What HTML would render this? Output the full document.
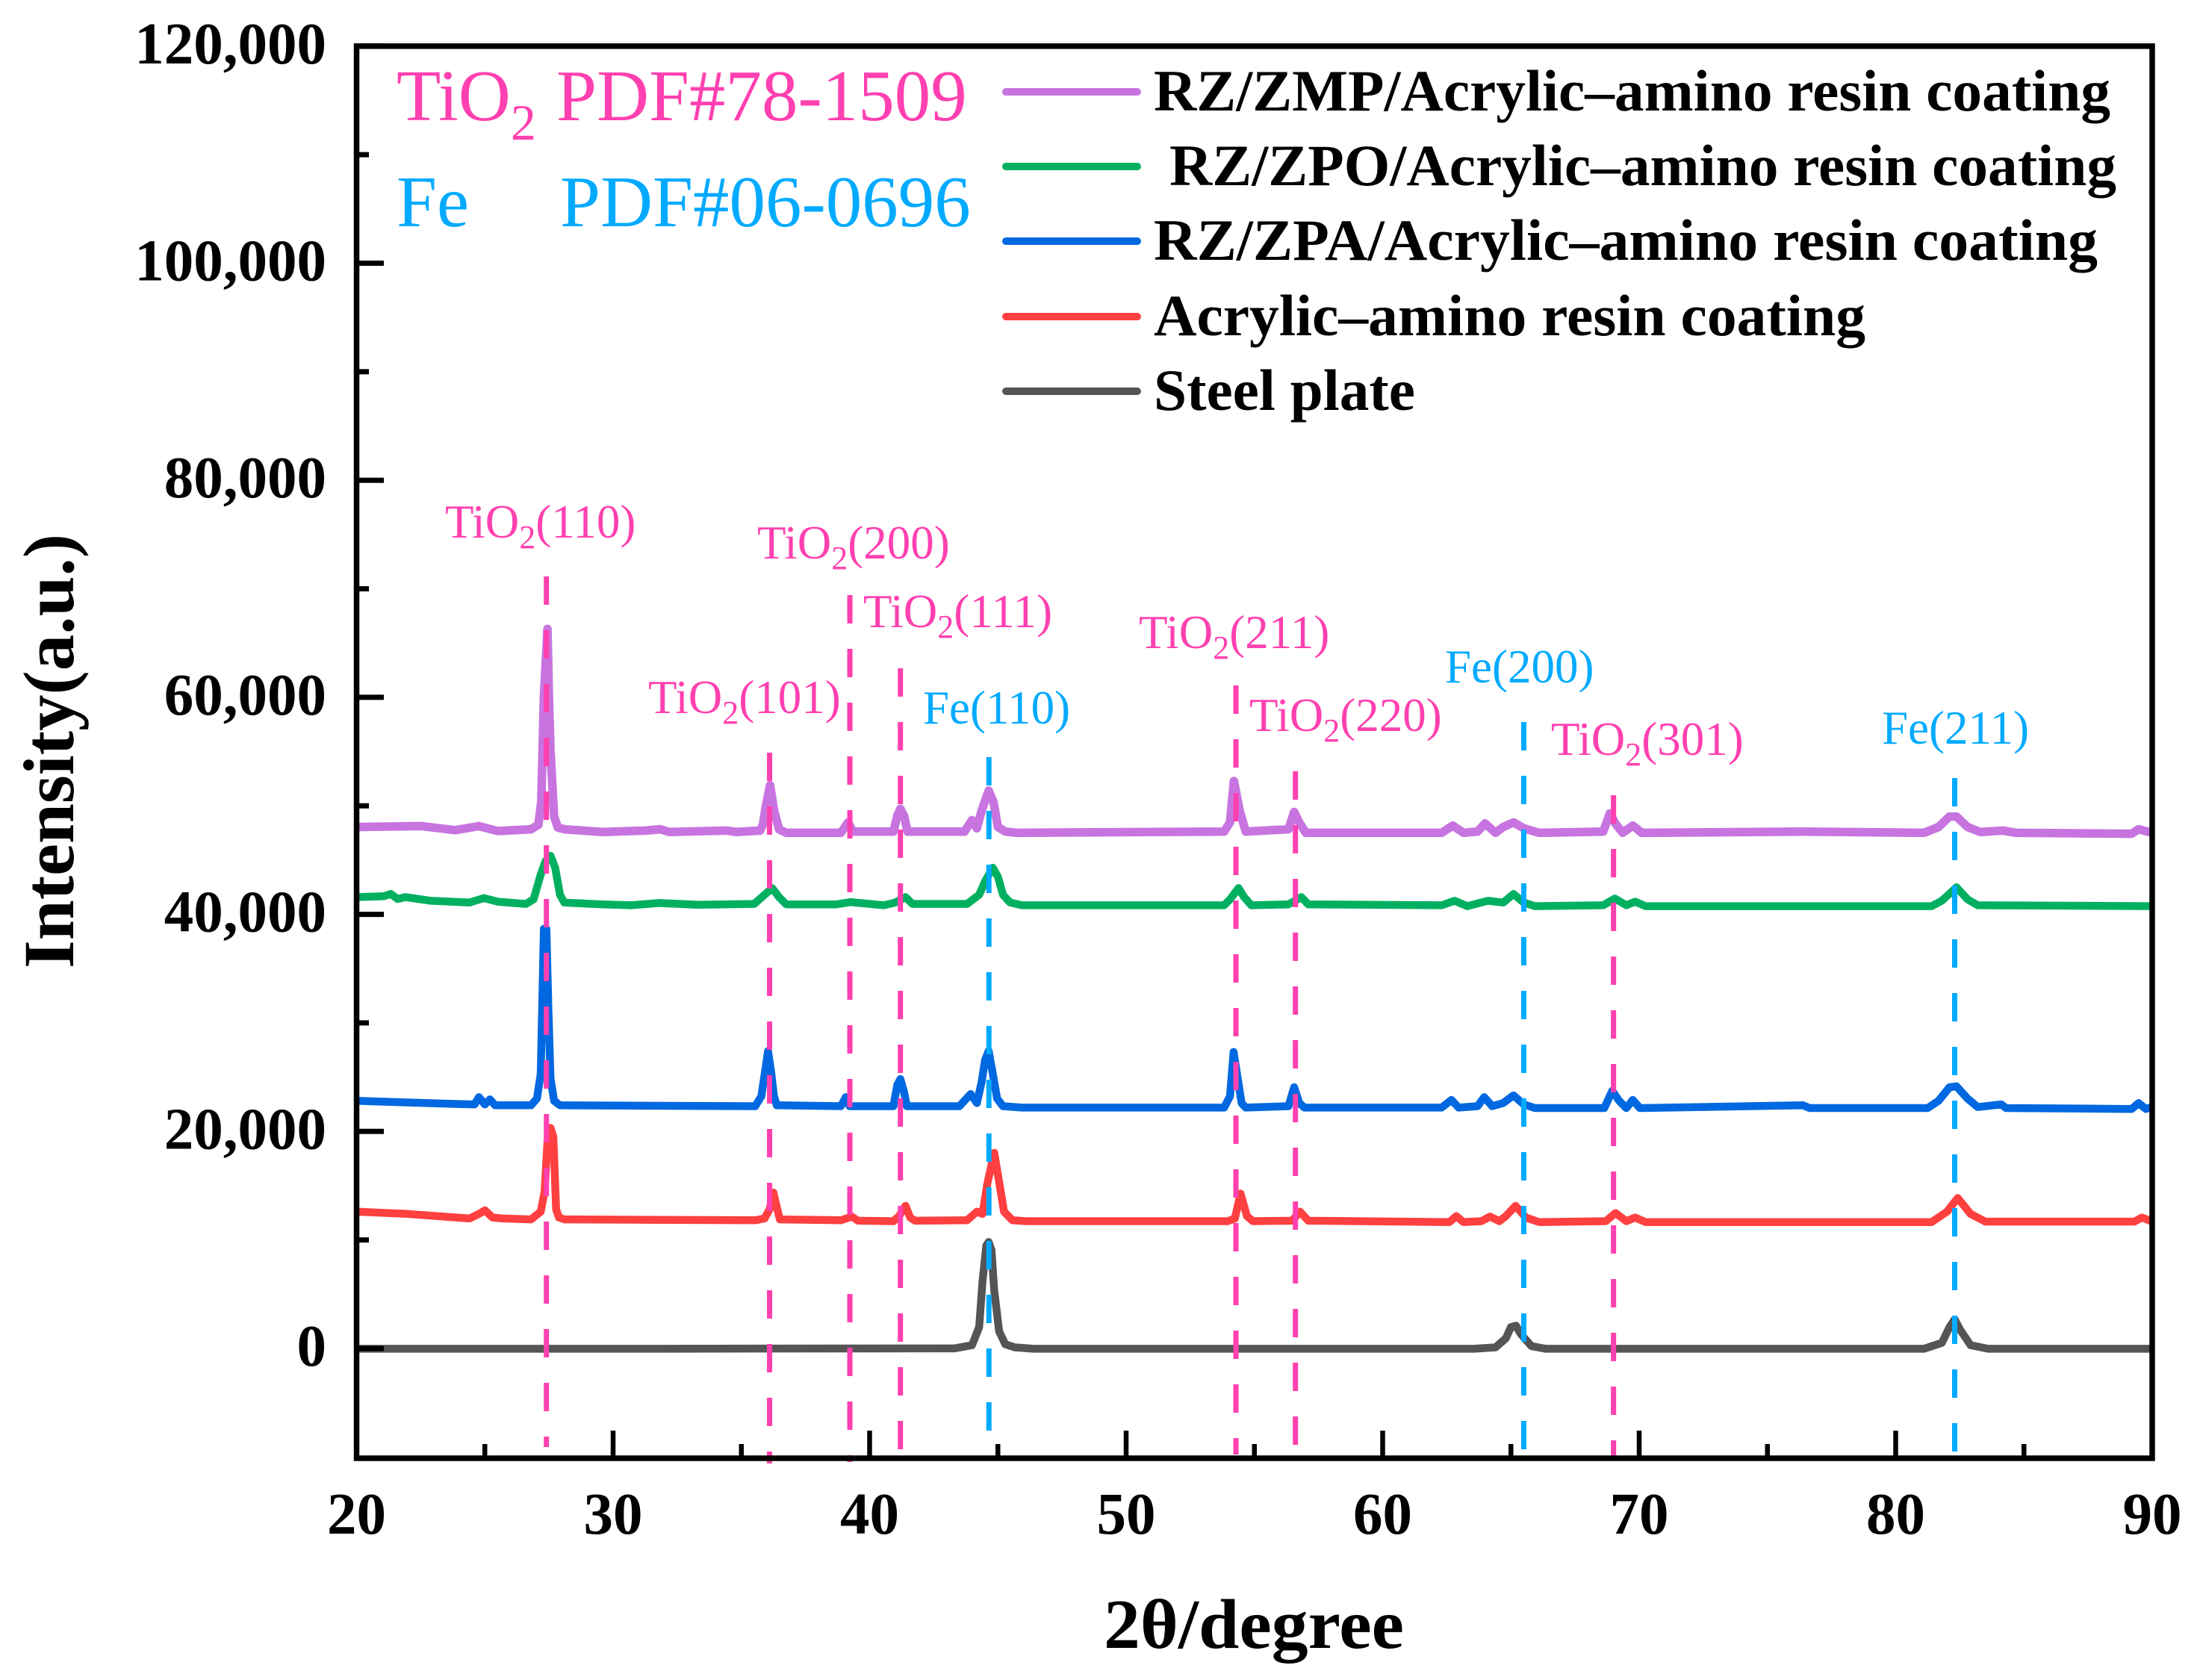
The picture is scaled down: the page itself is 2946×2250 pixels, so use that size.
<!DOCTYPE html>
<html>
<head>
<meta charset="utf-8">
<title>XRD patterns</title>
<style>
html,body{margin:0;padding:0;background:#fff;}
svg{display:block;}
text{font-family:"Liberation Serif",serif;}
.tick{font-size:79px;font-weight:bold;fill:#000;}
.leg{font-size:78px;font-weight:bold;fill:#000;}
.pk{font-size:63px;}
.pink{fill:#ff40b0;}
.cyan{fill:#00aaff;}
.big{font-size:97px;}
</style>
</head>
<body>
<svg id="chart" xmlns="http://www.w3.org/2000/svg" width="2946" height="2250" viewBox="0 0 2946 2250">
<rect x="0" y="0" width="2946" height="2250" fill="#fff"/>
<g id="series-layer"></g>
<g id="ref-layer"></g>
<g id="axis-layer"></g>

<text x="1478" y="2207" font-size="94" font-weight="bold" textLength="402" lengthAdjust="spacingAndGlyphs">2θ/degree</text>
<text transform="translate(98,1297) rotate(-90)" font-size="96" font-weight="bold" textLength="582" lengthAdjust="spacingAndGlyphs">Intensity(a.u.)</text>

<text class="big pink" x="531" y="161">TiO<tspan font-size="68" dy="26">2</tspan><tspan x="745" dy="-26">PDF#78-1509</tspan></text>
<text class="big cyan" x="531" y="303">Fe<tspan x="750">PDF#06-0696</tspan></text>

<g>
  <line x1="1347" x2="1523" y1="123" y2="123" stroke="#c774e0" stroke-width="10" stroke-linecap="round"/>
  <text class="leg" x="1545" y="148" textLength="1281" lengthAdjust="spacingAndGlyphs">RZ/ZMP/Acrylic–amino resin coating</text>
  <line x1="1347" x2="1523" y1="223" y2="223" stroke="#00b060" stroke-width="10" stroke-linecap="round"/>
  <text class="leg" x="1566" y="248" textLength="1268" lengthAdjust="spacingAndGlyphs">RZ/ZPO/Acrylic–amino resin coating</text>
  <line x1="1347" x2="1523" y1="323" y2="323" stroke="#0068e0" stroke-width="10" stroke-linecap="round"/>
  <text class="leg" x="1545" y="348" textLength="1264" lengthAdjust="spacingAndGlyphs">RZ/ZPA/Acrylic–amino resin coating</text>
  <line x1="1347" x2="1523" y1="424" y2="424" stroke="#ff4040" stroke-width="10" stroke-linecap="round"/>
  <text class="leg" x="1545" y="449" textLength="953" lengthAdjust="spacingAndGlyphs">Acrylic–amino resin coating</text>
  <line x1="1347" x2="1523" y1="524" y2="524" stroke="#555555" stroke-width="10" stroke-linecap="round"/>
  <text class="leg" x="1545" y="549" textLength="350" lengthAdjust="spacingAndGlyphs">Steel plate</text>
</g>

<g>
  <text class="pk pink" x="596" y="720">TiO<tspan font-size="44" dy="14">2</tspan><tspan dy="-14">(110)</tspan></text>
  <text class="pk pink" x="1014" y="748">TiO<tspan font-size="44" dy="14">2</tspan><tspan dy="-14">(200)</tspan></text>
  <text class="pk pink" x="1156" y="840">TiO<tspan font-size="44" dy="14">2</tspan><tspan dy="-14">(111)</tspan></text>
  <text class="pk pink" x="868" y="955">TiO<tspan font-size="44" dy="14">2</tspan><tspan dy="-14">(101)</tspan></text>
  <text class="pk cyan" x="1236" y="969">Fe(110)</text>
  <text class="pk pink" x="1525" y="868">TiO<tspan font-size="44" dy="14">2</tspan><tspan dy="-14">(211)</tspan></text>
  <text class="pk pink" x="1673" y="979">TiO<tspan font-size="44" dy="14">2</tspan><tspan dy="-14">(220)</tspan></text>
  <text class="pk cyan" x="1935" y="914">Fe(200)</text>
  <text class="pk pink" x="2077" y="1011">TiO<tspan font-size="44" dy="14">2</tspan><tspan dy="-14">(301)</tspan></text>
  <text class="pk cyan" x="2520" y="996">Fe(211)</text>
</g>
</svg>

<script>
// Axis values
const xTickValues = [20, 30, 40, 50, 60, 70, 80, 90];
const xMinorValues = [25, 35, 45, 55, 65, 75, 85];
const yTickValues = [0, 20000, 40000, 60000, 80000, 100000, 120000];
const yTickLabels = ['0', '20,000', '40,000', '60,000', '80,000', '100,000', '120,000'];
const yMinorValues = [10000, 30000, 50000, 70000, 90000, 110000];

// Reference peak positions (2-theta) and vertical extents (intensity units)
const refPinkPositions = [27.4, 36.1, 39.23, 41.2, 54.28, 56.6, 69.0];
const refPinkTops = [71140, 54900, 69420, 62680, 61090, 53180, 50980];
const refPinkBottoms = [-9080, -10595, -10460, -9425, -9770, -9080, -10110];
const refCyanPositions = [44.65, 65.5, 82.3];
const refCyanTops = [54490, 57720, 52560];
const refCyanBottoms = [-7910, -9425, -9770];

// RZ/ZMP coating
const zmpX = [20,22.54,23.84,24.77,25.5,26.8,27.09,27.2,27.3,27.44,27.5,27.56,27.7,27.85,28.1,29.6,31.27,31.83,32.2,34.43,34.8,35.73,35.84,35.95,36.12,36.28,36.47,36.75,38.88,39.16,39.35,40.93,41.08,41.2,41.34,41.48,43.7,43.99,44.18,44.36,44.64,44.83,45.0,45.29,45.75,53.82,54.05,54.2,54.43,54.66,56.33,56.55,56.75,57.0,62.3,62.73,63.15,63.7,63.99,64.4,64.7,65.1,65.5,66.1,68.6,68.86,69.08,69.36,69.75,70.1,76.38,81.1,81.67,82.1,82.37,82.8,83.3,84.2,84.7,89.2,89.47,90];
const zmpY = [48050,48135,47760,48135,47675,47840,48260,50345,60000,66300,60000,55000,49000,48000,47840,47590,47720,47840,47590,47720,47590,47720,48260,49930,51900,49510,47840,47510,47510,48470,47630,47630,49100,49720,49100,47630,47630,48680,47930,49510,51400,50345,48050,47630,47510,47630,48470,52290,49510,47630,47840,49430,48470,47510,47510,48180,47510,47630,48385,47510,48050,48470,47930,47510,47630,49300,48340,47510,48180,47510,47630,47510,48050,49010,49010,48050,47590,47720,47510,47430,47840,47510];

// RZ/ZPO coating
const zpoX = [20,21.06,21.34,21.6,21.9,22.9,24.4,24.96,25.5,26.6,26.9,27.18,27.37,27.56,27.74,27.93,28.1,29.6,30.7,31.8,33.3,35.5,35.8,36.2,36.47,36.75,38.7,39.25,40.55,41.0,41.4,41.67,43.8,44.27,44.5,44.8,45.0,45.2,45.48,45.94,53.82,54.05,54.38,54.6,54.88,56.33,56.83,57.1,62.3,62.8,63.3,64.1,64.7,65.1,65.5,65.94,68.6,69.05,69.5,69.84,70.25,81.4,81.8,82.37,82.8,83.2,90];
const zpoY = [41590,41670,41880,41420,41590,41255,41090,41500,41170,40960,41380,43673,44924,45400,44300,41800,41090,40920,40840,41045,40880,40960,41590,42420,41590,40920,40920,41130,40840,41090,41590,40960,40960,41800,43050,44300,43465,41800,41090,40840,40840,41380,42420,41590,40840,40920,41590,40920,40840,41255,40755,41255,41090,41880,41090,40755,40840,41460,40840,41170,40755,40755,41255,42500,41380,40840,40755];

// RZ/ZPA coating
const zpaX = [20,21.06,23.84,24.6,24.77,25,25.2,25.4,26.8,27.03,27.18,27.3,27.4,27.48,27.56,27.7,27.93,35.54,35.78,35.92,36.04,36.16,36.27,36.38,38.88,39.07,39.22,40.93,41.08,41.2,41.34,41.45,43.5,43.94,44.18,44.36,44.5,44.64,44.8,44.97,45.2,45.94,53.82,54.05,54.19,54.32,54.5,54.66,56.33,56.55,56.75,56.95,62.3,62.68,62.96,63.7,63.96,64.27,64.7,65.1,65.5,65.94,68.64,68.95,69.22,69.5,69.75,70.03,76.38,76.65,81.25,81.67,82.1,82.37,82.8,83.2,84.12,84.3,89.2,89.47,89.75,90];
const zpaY = [22823,22740,22530,22490,23156,22490,22950,22406,22406,23030,25325,38670,38670,31160,24908,22823,22406,22323,23240,25500,27410,25500,23240,22406,22323,23156,22323,22323,24283,24825,23657,22323,22323,23450,22615,24490,26576,27410,25325,23030,22323,22197,22197,23240,27327,25325,22615,22197,22323,24074,22615,22197,22197,22906,22197,22323,23156,22323,22615,23325,22490,22155,22155,23740,22823,22155,22906,22155,22406,22155,22155,22823,24074,24157,23030,22240,22490,22155,22072,22615,22072,22240];

// Acrylic-amino coating
const acrX = [20,22,24.4,24.77,25,25.3,25.7,26.8,27.18,27.33,27.44,27.56,27.67,27.78,27.89,28.1,35.54,35.9,36.1,36.25,36.36,36.5,38.88,39.3,39.55,40.93,41.15,41.4,41.58,41.77,43.8,44.18,44.4,44.6,44.86,45.05,45.24,45.57,46.1,53.96,54.24,54.46,54.71,54.94,56.47,56.78,57.1,62.6,62.87,63.15,63.85,64.18,64.55,64.8,65.18,65.58,66.1,68.7,69.08,69.5,69.84,70.25,81.4,82,82.42,82.92,83.5,89.3,89.6,90];
const acrY = [12606,12398,11980,12398,12730,12065,11980,11897,12606,14480,19070,20320,19486,12815,12065,11897,11813,11980,12815,14360,13230,11897,11813,12148,11773,11730,12190,13150,12065,11773,11813,12606,12398,15317,18027,15317,12606,11813,11730,11730,11980,14275,12190,11730,11773,12606,11773,11647,12190,11647,11730,12148,11730,12190,13150,12065,11647,11730,12480,11730,12065,11647,11647,12606,13860,12398,11690,11690,12065,11690];

// Steel plate
const steelX = [20,30,43.3,43.99,44.27,44.4,44.55,44.64,44.75,44.86,45.05,45.29,45.66,46.4,63.57,64.4,64.8,65.0,65.2,65.38,65.8,66.35,81.1,81.8,82.1,82.3,82.5,82.92,83.6,90];
const steelY = [-30,-30,10,305,1973,6143,9480,9813,9060,5310,1556,388,100,-30,-30,100,930,1973,2100,1350,220,-30,-30,513,1973,2680,1766,305,-30,-30];

const seriesNames = ['steel-plate-curve','acrylic-coating-curve','rz-zpa-curve','rz-zpo-curve','rz-zmp-curve'];
const seriesColors = ['#555555','#ff4040','#0068e0','#00b060','#c774e0'];
const seriesWidths = [10.5, 10.5, 10.5, 10.5, 11.5];
const seriesXs = [steelX, acrX, zpaX, zpoX, zmpX];
const seriesYs = [steelY, acrY, zpaY, zpoY, zmpY];

function xScale(v){ return 477.5 + (v - 20) * 34.35; }
function yScale(v){ return 1806 - v * 290.7 / 20000; }

const NS = 'http://www.w3.org/2000/svg';
const seriesLayer = document.getElementById('series-layer');
const refLayer = document.getElementById('ref-layer');
const axisLayer = document.getElementById('axis-layer');

seriesNames.forEach(function(name, i){
  const pts = seriesXs[i].map(function(x, j){ return xScale(x).toFixed(1) + ',' + yScale(seriesYs[i][j]).toFixed(1); }).join(' ');
  const el = document.createElementNS(NS, 'polyline');
  
  
  el.setAttribute('points', pts);
  el.setAttribute('fill', 'none');
  el.setAttribute('stroke', seriesColors[i]);
  el.setAttribute('stroke-width', seriesWidths[i]);
  el.setAttribute('stroke-linejoin', 'round');
  seriesLayer.appendChild(el);
});

function drawRef(positions, tops, bottoms, color, width){
  positions.forEach(function(p, i){
    const el = document.createElementNS(NS, 'line');
    
    
    el.setAttribute('x1', xScale(p));
    el.setAttribute('x2', xScale(p));
    el.setAttribute('y1', yScale(tops[i]));
    el.setAttribute('y2', yScale(bottoms[i]));
    el.setAttribute('stroke', color);
    el.setAttribute('stroke-width', width);
    el.setAttribute('stroke-dasharray', '38 34');
    refLayer.appendChild(el);
  });
}
drawRef(refPinkPositions, refPinkTops, refPinkBottoms, '#ff40b0', 7);
drawRef(refCyanPositions, refCyanTops, refCyanBottoms, '#00aaff', 7);

// Frame
const frame = document.createElementNS(NS, 'rect');


frame.setAttribute('x', xScale(20));
frame.setAttribute('y', yScale(120000));
frame.setAttribute('width', xScale(90) - xScale(20));
frame.setAttribute('height', 1953 - yScale(120000));
frame.setAttribute('fill', 'none');
frame.setAttribute('stroke', '#000');
frame.setAttribute('stroke-width', '7.5');
axisLayer.appendChild(frame);

function addTick(x1, y1, x2, y2, width){
  const t = document.createElementNS(NS, 'line');
  
  
  t.setAttribute('x1', x1);
  t.setAttribute('y1', y1);
  t.setAttribute('x2', x2);
  t.setAttribute('y2', y2);
  t.setAttribute('stroke', '#000');
  t.setAttribute('stroke-width', width);
  axisLayer.appendChild(t);
}
function addLabel(x, y, anchor, str){
  const t = document.createElementNS(NS, 'text');
  
  
  t.setAttribute('class', 'tick');
  t.setAttribute('x', x);
  t.setAttribute('y', y);
  t.setAttribute('text-anchor', anchor);
  t.textContent = str;
  axisLayer.appendChild(t);
}
xTickValues.forEach(function(v){
  addTick(xScale(v), 1953, xScale(v), 1916, 6.5);
  addLabel(xScale(v), 2054, 'middle', String(v));
});
xMinorValues.forEach(function(v){
  addTick(xScale(v), 1953, xScale(v), 1934, 6.5);
});
yTickValues.forEach(function(v, i){
  addTick(478, yScale(v), 514, yScale(v), 7);
  addLabel(437, yScale(v) + 23, 'end', yTickLabels[i]);
});
yMinorValues.forEach(function(v){
  addTick(478, yScale(v), 494, yScale(v), 7);
});
</script>
</body>
</html>
